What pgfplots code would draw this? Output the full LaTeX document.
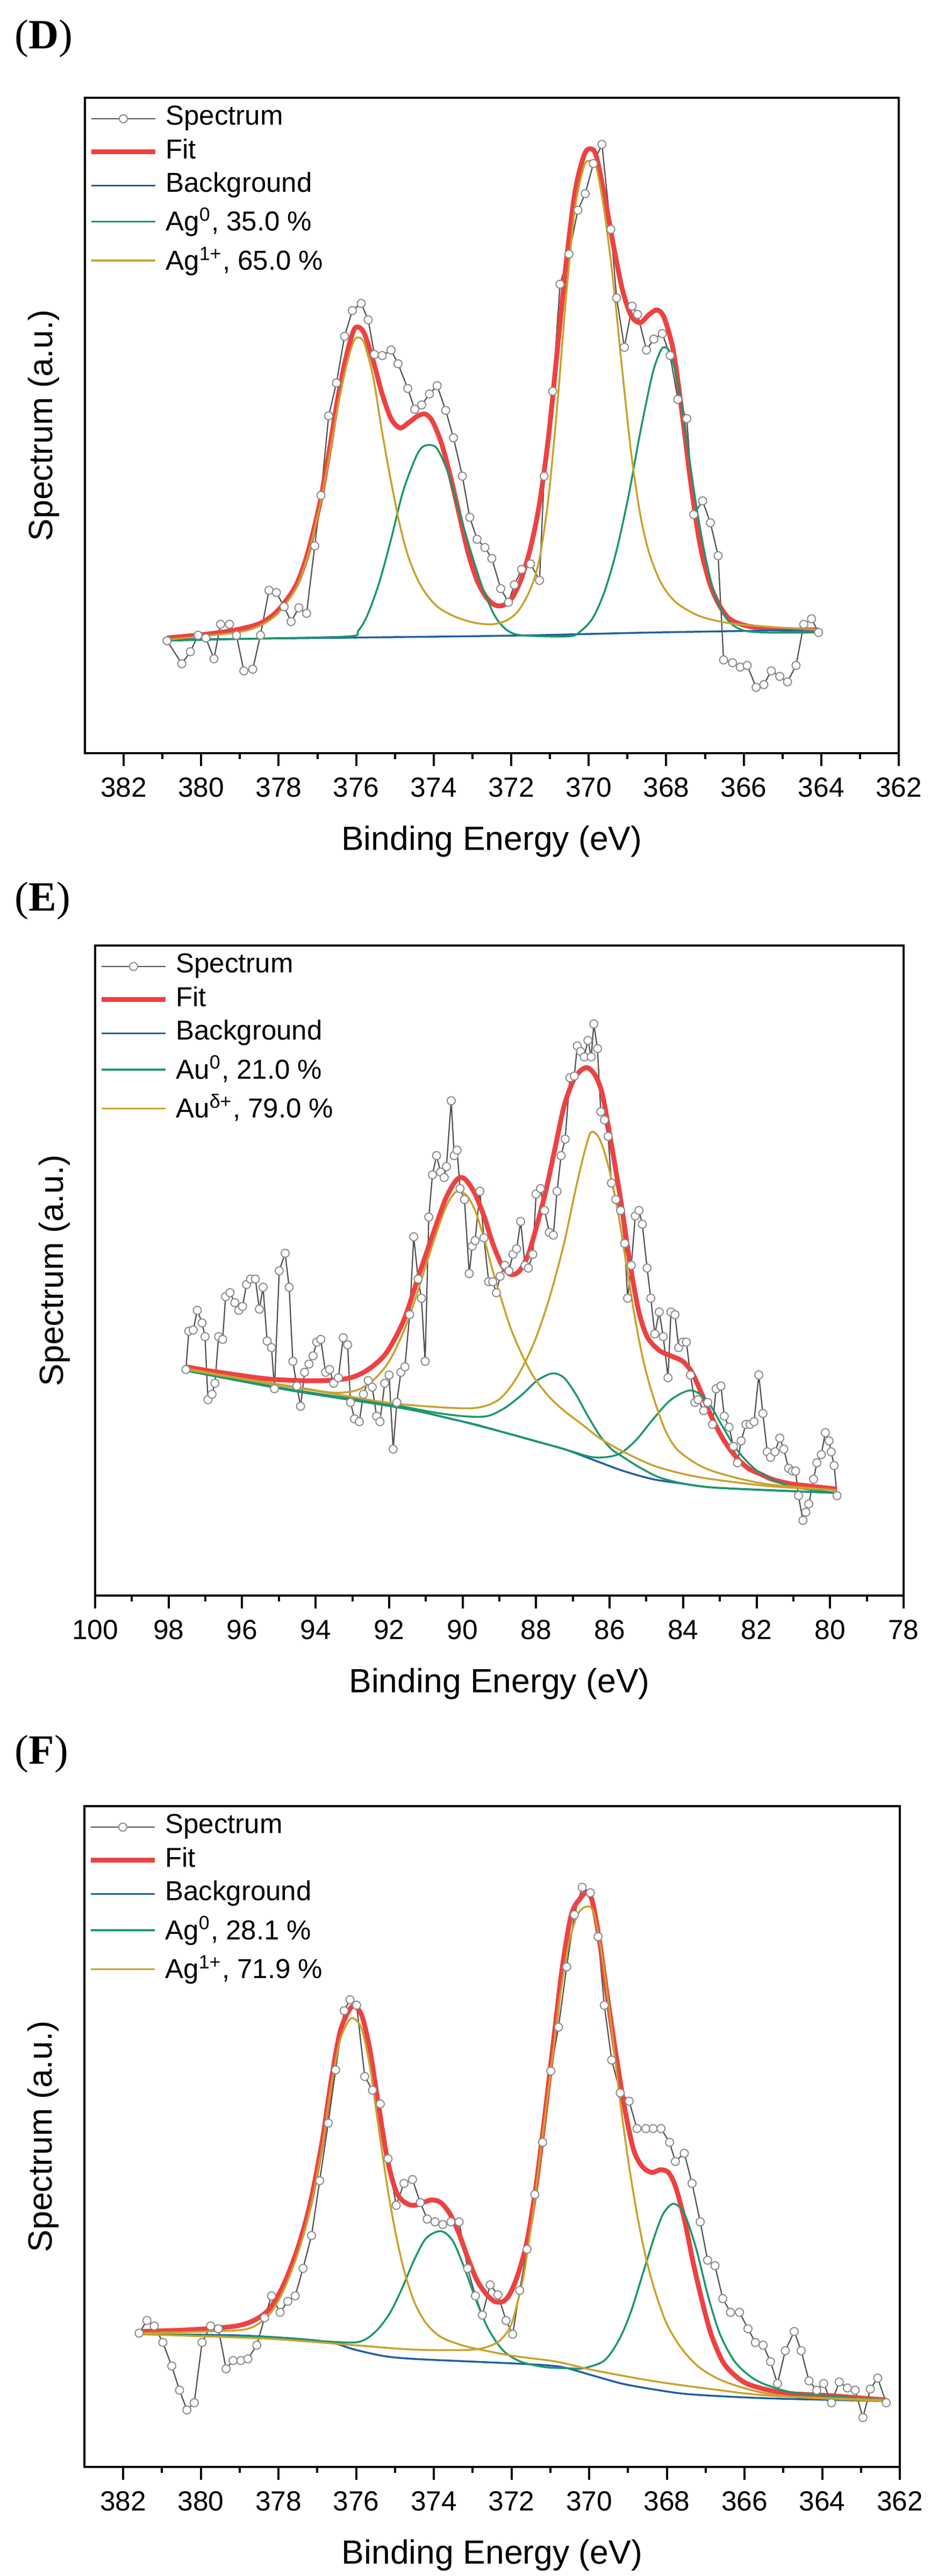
\documentclass[border=0pt]{standalone}
\usepackage{fontspec}
\setmainfont{Liberation Sans}
\newfontfamily\labelfont{Liberation Serif}
\usepackage{pgfplots}
\pgfplotsset{compat=1.18}
\definecolor{fitred}{RGB}{237,66,66}
\definecolor{bgblue}{RGB}{30,95,165}
\definecolor{agreen}{RGB}{30,150,110}
\definecolor{agold}{RGB}{200,162,45}
\definecolor{specline}{RGB}{80,80,80}
\definecolor{specmark}{RGB}{140,140,140}
\newcommand{\sst}{\rule{0pt}{9.4pt}}
\pgfplotsset{
  xps/.style={
    scale only axis,
    x dir=reverse,
    axis line style={line width=0.8pt},
    ytick=\empty,
    xtick pos=left,
    tick align=outside,
    major tick length=4.8pt,
    minor tick length=2.2pt,
    every tick/.style={black, line width=0.8pt},
    minor x tick num=1,
    /pgf/number format/assume math mode=true,
    tick label style={font=\fontsize{10.3}{12}\selectfont},
    xticklabel style={yshift=-0.7pt},
    label style={font=\fontsize{12.5}{15}\selectfont},
    xlabel={Binding Energy (eV)},
    ylabel={Spectrum (a.u.)},
    xlabel style={at={(axis description cs:0.5,0)}, anchor=north, yshift=-26.8pt, inner sep=0pt},
    ylabel style={at={(axis description cs:-0.0304,0.5)}, anchor=south, inner sep=0pt},
    legend style={draw=none, fill=none, at={(axis description cs:0,1)}, anchor=north west,
      xshift=1.5pt, yshift=-3pt, inner sep=0pt, outer sep=0pt, row sep=2.6pt,
      font=\fontsize{10.2}{12}\selectfont,
      nodes={inner sep=0pt, text depth=0.25em},
      /tikz/every odd column/.style={column sep=3pt}},
    legend cell align=left,
    legend image code/.code={\draw[mark repeat=2,mark phase=2,#1] plot coordinates {(0pt,0pt) (11.9pt,0pt) (23.8pt,0pt)};},
  },
  spec/.style={color=specline, line width=0.45pt, mark=*, mark size=1.5pt,
    mark options={fill=white, draw=specmark, line width=0.4pt}},
  fitc/.style={color=fitred, line width=1.8pt, smooth, no marks},
  bgc/.style={color=bgblue, line width=0.7pt, smooth, no marks},
  grc/.style={color=agreen, line width=0.7pt, smooth, no marks},
  goc/.style={color=agold, line width=0.7pt, smooth, no marks},
}
\begin{document}
\begin{tikzpicture}
\useasboundingbox (0,0) rectangle (346.2pt,959pt);
\node[anchor=west, inner sep=0pt, font=\labelfont\fontsize{15.5}{18}\selectfont] at (5.4pt,944.6pt) {(\textbf{D})};
\node[anchor=west, inner sep=0pt, font=\labelfont\fontsize{15.5}{18}\selectfont] at (5.4pt,623.6pt) {(\textbf{E})};
\node[anchor=west, inner sep=0pt, font=\labelfont\fontsize{15.5}{18}\selectfont] at (5.4pt,306pt) {(\textbf{F})};

% ---------------- Panel D ----------------
\begin{axis}[xps, at={(31.6pt,678.6pt)}, anchor=south west, width=302.8pt, height=244pt,
  xmin=362, xmax=383, ymin=0, ymax=1195, xtick={362,364,...,382}]
\addplot[spec] table {
x y
380.88 205
380.50 163
380.28 185
380.08 215
379.88 210
379.67 172
379.50 235
379.27 235
379.09 215
378.90 150
378.67 153
378.47 215
378.25 297
378.06 293
377.86 267
377.68 240
377.48 265
377.28 255
377.07 378
376.91 470
376.71 615
376.51 675
376.30 760
376.10 807
375.87 820
375.69 790
375.53 727
375.33 725
375.10 735
374.92 710
374.67 665
374.49 627
374.31 635
374.11 655
373.91 670
373.69 625
373.49 575
373.26 505
373.07 430
372.88 390
372.68 375
372.50 355
372.27 300
372.07 275
371.92 307
371.73 335
371.50 345
371.27 315
371.15 505
370.93 660
370.74 855
370.51 910
370.28 990
370.09 1020
369.88 1075
369.66 1110
369.43 955
369.28 830
369.08 740
368.88 815
368.74 800
368.51 735
368.32 755
368.10 765
367.90 725
367.70 645
367.47 610
367.29 435
367.06 460
366.86 420
366.66 360
366.52 170
366.29 165
366.09 157
365.91 160
365.68 120
365.48 125
365.29 150
365.07 140
364.87 130
364.65 160
364.45 235
364.25 245
364.07 220
};
\addlegendentry{Spectrum}
\addplot[fitc] table {
x y
380.88 210
379.85 217
379.09 225
378.47 237
378.02 260
377.56 305
377.25 365
376.94 455
376.71 545
376.48 645
376.25 725
376.07 770
375.95 777
375.79 765
375.56 715
375.33 655
375.10 610
374.87 593
374.64 603
374.41 615
374.21 618
374.03 605
373.80 565
373.57 505
373.34 435
373.11 365
372.88 315
372.65 285
372.42 270
372.19 270
371.96 285
371.73 320
371.50 375
371.27 455
371.04 575
370.81 735
370.58 895
370.35 1025
370.12 1090
369.97 1102
369.81 1090
369.59 1015
369.36 925
369.13 845
368.90 797
368.67 785
368.44 800
368.24 808
368.06 795
367.82 735
367.60 625
367.37 495
367.14 385
366.90 315
366.67 275
366.37 245
365.91 232
365.29 227
364.68 225
364.07 225
};
\addlegendentry{Fit}
\addplot[bgc] table {
x y
380.88 207
374.49 212
371.43 215
368.36 220
364.07 225
};
\addlegendentry{Background}
\addplot[grc] table {
x y
380.88 205
378.50 209
376.18 213
375.95 223
375.72 250
375.41 310
375.10 390
374.80 475
374.49 535
374.31 557
374.11 562
373.91 555
373.65 515
373.34 440
373.03 365
372.73 300
372.42 250
372.12 225
371.73 215
370.51 213
370.20 223
369.89 247
369.59 295
369.28 370
368.97 470
368.67 585
368.36 690
368.17 730
368.06 740
367.90 730
367.67 665
367.44 555
367.21 445
366.98 355
366.75 290
366.44 245
366.06 225
365.45 220
364.07 220
};
\addlegendentry{\sst Ag\textsuperscript{0}, 35.0 \%}
\addplot[goc] table {
x y
380.88 207
379.09 220
378.47 233
378.02 255
377.56 300
377.25 360
376.94 450
376.71 535
376.48 630
376.25 707
376.07 750
375.95 758
375.79 747
375.56 685
375.33 585
375.10 495
374.87 415
374.64 355
374.33 305
373.95 270
373.49 250
372.96 238
372.50 235
372.12 242
371.81 260
371.50 300
371.27 355
371.04 465
370.81 635
370.58 835
370.35 995
370.12 1070
369.97 1080
369.81 1070
369.59 985
369.36 855
369.13 695
368.90 545
368.67 435
368.44 365
368.13 310
367.75 275
367.14 250
366.37 237
365.29 230
364.07 225
};
\addlegendentry{\sst Ag\textsuperscript{1+}, 65.0 \%}
\end{axis}

% ---------------- Panel E ----------------
\begin{axis}[xps, at={(35.4pt,365pt)}, anchor=south west, width=300.8pt, height=242pt,
  xmin=78, xmax=100, ymin=0, ymax=1185, xtick={78,80,...,100}]
\addplot[spec] table {
x y
97.53 412
97.45 482
97.33 484
97.22 520
97.09 497
97.01 472
96.93 357
96.82 367
96.74 387
96.64 472
96.53 467
96.45 545
96.33 552
96.20 534
96.09 520
95.99 527
95.88 567
95.77 577
95.64 577
95.53 522
95.43 562
95.32 464
95.20 452
95.12 377
94.99 592
94.83 624
94.72 562
94.62 427
94.51 382
94.41 345
94.30 407
94.18 422
94.07 437
93.97 462
93.86 467
93.73 407
93.62 412
93.51 387
93.38 397
93.25 470
93.13 457
93.05 352
92.94 322
92.81 317
92.70 367
92.57 392
92.46 380
92.34 327
92.25 317
92.12 387
92.00 402
91.89 267
91.79 352
91.68 407
91.57 417
91.44 512
91.33 654
91.21 577
91.12 542
91.02 427
90.92 690
90.82 767
90.71 802
90.60 772
90.50 762
90.44 782
90.31 902
90.23 802
90.15 812
90.07 742
89.95 722
89.82 587
89.74 637
89.66 647
89.53 737
89.42 652
89.29 572
89.18 572
89.08 552
88.98 582
88.85 602
88.74 592
88.63 622
88.53 632
88.42 682
88.30 602
88.21 597
88.09 622
88.00 732
87.88 742
87.77 702
87.64 662
87.53 657
87.43 737
87.32 802
87.21 832
87.08 944
86.96 947
86.88 1002
86.79 992
86.69 982
86.59 1012
86.50 982
86.43 1042
86.33 997
86.24 882
86.14 867
86.04 837
85.95 752
85.83 722
85.70 702
85.59 642
85.51 542
85.41 602
85.30 692
85.20 702
85.11 677
84.98 597
84.88 542
84.77 477
84.65 517
84.54 472
84.41 397
84.33 517
84.22 512
84.12 452
84.01 462
83.91 462
83.80 402
83.68 352
83.59 357
83.44 337
83.33 352
83.20 312
83.10 377
82.97 382
82.88 327
82.75 307
82.63 272
82.52 242
82.42 282
82.29 312
82.18 312
82.07 317
81.94 402
81.83 332
81.71 262
81.62 252
81.50 262
81.37 287
81.26 267
81.13 232
81.02 227
80.94 227
80.86 182
80.74 137
80.66 152
80.58 167
80.45 212
80.36 242
80.24 257
80.13 297
80.03 282
79.97 262
79.89 237
79.81 182
};
\addlegendentry{Spectrum}
\addplot[fitc] table {
x y
97.53 417
96.93 410
96.12 402
95.32 395
94.51 392
93.70 392
93.05 397
92.57 412
92.08 442
91.60 502
91.20 582
90.79 662
90.47 722
90.23 752
90.07 762
89.90 757
89.66 732
89.42 692
89.18 642
88.93 602
88.69 585
88.45 592
88.21 622
87.97 677
87.72 742
87.48 817
87.24 892
87.00 937
86.79 957
86.59 962
86.38 947
86.19 912
85.95 822
85.70 722
85.46 612
85.22 522
84.98 472
84.65 447
84.33 437
84.01 427
83.76 407
83.52 372
83.20 322
82.88 282
82.55 252
82.23 232
81.91 222
81.58 212
81.10 204
80.61 200
79.81 194
};
\addlegendentry{Fit}
\addplot[bgc] table {
x y
97.53 410
96.12 392
94.51 372
92.89 357
91.28 337
90.31 322
89.66 312
88.85 297
88.05 282
87.24 267
86.43 247
85.62 227
84.81 212
84.01 204
83.20 197
81.58 192
79.81 187
};
\addlegendentry{Background}
\addplot[grc] table {
x y
97.53 410
94.51 374
92.08 350
90.79 334
89.98 327
89.34 327
88.85 342
88.37 367
87.97 392
87.56 405
87.24 397
86.92 367
86.59 327
86.27 292
85.95 267
85.62 252
85.14 232
84.49 212
83.20 197
79.81 187
};
\addlegendentry{\sst Au\textsuperscript{0}, 21.0 \%}
\addplot[grc, forget plot] table {
x y
97.53 410
94.51 372
91.28 337
88.85 297
87.24 267
86.43 252
85.78 257
85.30 282
84.81 322
84.33 357
83.80 374
83.36 357
82.96 312
82.55 267
82.07 232
81.58 212
80.94 197
79.81 187
};
\addplot[goc] table {
x y
97.53 414
96.12 397
94.51 380
93.54 370
92.89 374
92.41 394
92.00 427
91.60 482
91.28 542
90.95 612
90.63 677
90.39 717
90.15 737
89.90 730
89.66 702
89.42 652
89.18 592
88.93 537
88.69 487
88.37 437
88.05 397
87.64 362
87.24 337
86.75 312
86.27 287
85.62 262
84.81 237
84.01 222
83.20 212
81.58 199
79.81 192
};
\addlegendentry{\sst Au\textsuperscript{δ+}, 79.0 \%}
\addplot[goc, forget plot] table {
x y
97.53 412
95.32 387
93.70 370
92.08 352
90.79 344
89.66 342
89.02 357
88.53 397
88.05 462
87.64 542
87.24 642
86.92 742
86.67 812
86.50 845
86.27 832
86.03 782
85.78 702
85.54 602
85.30 502
85.06 422
84.81 362
84.49 302
84.17 267
83.68 242
83.20 227
82.39 212
81.58 202
79.81 192
};
\end{axis}

% ---------------- Panel F ----------------
\begin{axis}[xps, at={(31.4pt,40.6pt)}, anchor=south west, width=303.4pt, height=246pt,
  xmin=362, xmax=383, ymin=0, ymax=1205, xtick={362,364,...,382}]
\addplot[spec] table {
x y
381.59 244
381.39 267
381.20 257
380.98 227
380.75 184
380.55 140
380.36 104
380.17 117
379.97 227
379.75 257
379.55 252
379.35 179
379.17 194
378.97 194
378.79 197
378.56 222
378.36 272
378.18 312
377.96 282
377.76 302
377.57 312
377.37 362
377.15 422
376.94 522
376.72 627
376.53 724
376.31 832
376.16 852
375.99 842
375.78 712
375.58 687
375.38 662
375.18 562
374.97 477
374.77 517
374.55 524
374.35 482
374.17 452
373.97 447
373.77 442
373.56 447
373.35 447
373.13 362
372.93 312
372.75 277
372.55 332
372.35 314
372.14 267
371.97 242
371.79 322
371.60 397
371.40 497
371.20 592
370.99 722
370.79 802
370.58 912
370.38 1007
370.18 1057
369.97 1047
369.77 967
369.61 842
369.42 742
369.20 682
368.97 667
368.77 617
368.54 617
368.35 617
368.15 617
367.93 592
367.78 557
367.55 572
367.35 517
367.14 447
366.95 377
366.76 367
366.56 307
366.36 282
366.13 282
365.91 252
365.72 227
365.52 222
365.33 192
365.15 152
364.95 212
364.72 247
364.54 212
364.34 157
364.14 140
363.96 152
363.76 117
363.56 155
363.35 144
363.15 140
362.95 90
362.76 142
362.57 162
362.35 117
};
\addlegendentry{Spectrum}
\addplot[fitc] table {
x y
381.59 247
380.62 249
379.86 252
379.09 257
378.64 267
378.25 287
377.87 332
377.49 402
377.18 482
376.88 592
376.65 702
376.42 792
376.19 832
376.04 840
375.85 822
375.65 762
375.43 662
375.20 562
374.97 502
374.74 482
374.51 477
374.28 482
374.05 487
373.82 482
373.59 462
373.36 427
373.13 382
372.90 342
372.67 317
372.44 302
372.21 302
372.03 317
371.83 352
371.60 412
371.37 512
371.14 642
370.91 782
370.69 912
370.46 1007
370.23 1037
370.07 1047
369.92 1032
369.74 962
369.54 862
369.31 752
369.08 652
368.85 577
368.62 547
368.39 537
368.16 542
367.96 537
367.78 512
367.55 452
367.32 372
367.09 302
366.86 242
366.56 192
366.25 167
365.94 152
365.49 142
364.87 134
363.80 130
362.35 122
};
\addlegendentry{Fit}
\addplot[bgc] table {
x y
381.59 242
379.09 240
377.57 234
376.65 227
376.04 214
375.27 202
374.51 197
372.98 192
371.45 187
370.69 182
369.92 167
369.16 152
368.39 142
367.63 134
366.86 130
365.33 125
362.35 120
};
\addlegendentry{Background}
\addplot[grc] table {
x y
381.59 242
378.33 237
376.80 229
376.04 227
375.73 234
375.43 252
375.12 282
374.81 327
374.51 377
374.20 417
373.82 430
373.51 412
373.21 362
372.90 302
372.60 252
372.21 212
371.76 192
371.14 182
370.53 180
370.15 180
369.61 194
369.23 232
368.93 282
368.62 352
368.31 422
368.09 462
367.83 480
367.55 462
367.24 397
366.94 312
366.63 242
366.25 192
365.79 162
365.33 147
364.57 134
362.35 122
};
\addlegendentry{\sst Ag\textsuperscript{0}, 28.1 \%}
\addplot[goc] table {
x y
381.59 244
379.86 247
378.79 252
378.25 277
377.87 322
377.49 392
377.18 472
376.88 582
376.65 692
376.42 777
376.19 814
376.04 817
375.85 797
375.65 732
375.43 622
375.20 512
375.00 432
374.78 362
374.51 302
374.20 262
373.82 237
373.28 222
372.67 212
371.91 202
370.84 192
369.92 177
368.39 157
366.86 142
365.33 130
362.35 122
};
\addlegendentry{\sst Ag\textsuperscript{1+}, 71.9 \%}
\addplot[goc, forget plot] table {
x y
381.59 242
378.33 234
376.04 222
374.51 214
372.98 214
372.37 227
372.06 252
371.91 282
371.68 352
371.45 462
371.22 592
370.99 722
370.76 852
370.53 952
370.30 1007
370.07 1022
369.89 1012
369.69 942
369.46 822
369.23 682
369.00 562
368.77 462
368.54 382
368.31 322
368.01 262
367.63 217
367.17 182
366.56 157
365.64 137
364.57 127
362.35 120
};
\end{axis}
\end{tikzpicture}
\end{document}
